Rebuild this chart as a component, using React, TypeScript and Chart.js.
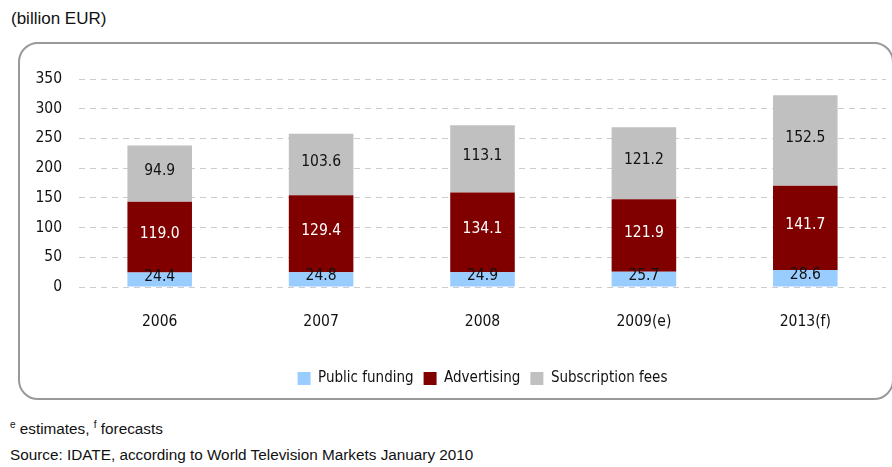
import React, { useEffect, useRef } from "react";
import { Chart, registerables } from "chart.js";

Chart.register(...registerables);

const categories = ["2006", "2007", "2008", "2009(e)", "2013(f)"];
const publicFunding = [24.4, 24.8, 24.9, 25.7, 28.6];
const advertising = [119.0, 129.4, 134.1, 121.9, 141.7];
const subscriptionFees = [94.9, 103.6, 113.1, 121.2, 152.5];
const seriesNames = ["Public funding", "Advertising", "Subscription fees"];
const seriesColors = ["#99CCFF", "#800000", "#C0C0C0"];
const labelColors = ["#111111", "#FFFFFF", "#111111"];

const NARROW = '"Liberation Sans Narrow", "DejaVu Sans Condensed", "Arial Narrow", sans-serif';
const SANS = '"Liberation Sans", Arial, sans-serif';

const valueLabels = {
  id: "valueLabels",
  afterDatasetsDraw(chart: any) {
    const ctx = chart.ctx;
    ctx.save();
    ctx.font = `15.5px ${NARROW}`;
    ctx.textAlign = "center";
    ctx.textBaseline = "middle";
    chart.data.datasets.forEach((ds: any, di: number) => {
      const meta = chart.getDatasetMeta(di);
      meta.data.forEach((bar: any, i: number) => {
        const v = ds.data[i];
        ctx.fillStyle = labelColors[di];
        const y = (bar.y + bar.base) / 2 - 3;
        ctx.fillText(Number(v).toFixed(1), bar.x, y);
      });
    });
    ctx.restore();
  },
};

function BarChart() {
  const ref = useRef<HTMLCanvasElement>(null);
  useEffect(() => {
    if (!ref.current) return;
    const chart = new Chart(ref.current, {
      type: "bar",
      data: {
        labels: categories,
        datasets: [publicFunding, advertising, subscriptionFees].map((d, i) => ({
          label: seriesNames[i],
          data: d,
          backgroundColor: seriesColors[i],
          borderWidth: 0,
          barPercentage: 0.4,
          categoryPercentage: 1,
        })),
      },
      options: {
        animation: false,
        responsive: false,
        maintainAspectRatio: false,
        layout: { padding: { top: 35, right: 4, left: 0, bottom: 0 } },
        plugins: {
          tooltip: { enabled: false },
          legend: {
            position: "bottom",
            fullSize: false,
            labels: {
              boxWidth: 13,
              boxHeight: 13,
              padding: 10,
              color: "#111",
              font: { family: NARROW, size: 15 },
            },
          },
        },
        scales: {
          x: {
            stacked: true,
            grid: { display: false, drawTicks: false },
            border: { display: false },
            ticks: { color: "#111", font: { family: NARROW, size: 15.5 }, padding: 26, maxRotation: 0 },
            afterFit(scale: any) {
              scale.height = 74;
            },
          },
          y: {
            stacked: true,
            min: 0,
            max: 350,
            ticks: { stepSize: 50, color: "#111", font: { family: NARROW, size: 15.5 }, padding: 17 },
            grid: { color: "#CCCCCC", lineWidth: 1, drawTicks: false },
            border: { display: false, dash: [6, 5] },
            afterFit(scale: any) {
              scale.width = 59;
            },
          },
        },
      },
      plugins: [valueLabels],
    } as any);
    return () => chart.destroy();
  }, []);
  return <canvas ref={ref} width={870} height={352} style={{ display: "block", width: 870, height: 352 }} />;
}

export default function App() {
  return (
    <div style={{ position: "absolute", left: 0, top: 0, width: 892, height: 467, background: "#fff", overflow: "hidden", fontFamily: SANS, color: "#111" }}>
      <div style={{ position: "absolute", left: 11, top: 8, fontSize: 17, lineHeight: "22px" }}>(billion EUR)</div>
      <div
        style={{
          position: "absolute",
          left: 18,
          top: 42,
          width: 872,
          height: 354,
          border: "2px solid #999",
          borderRadius: 20,
        }}
      />
      <div style={{ position: "absolute", left: 20, top: 44 }}>
        <BarChart />
      </div>
      <div style={{ position: "absolute", left: 10, top: 415, fontSize: 15.3, lineHeight: "20px" }}>
        <sup style={{ fontSize: 10 }}>e</sup> estimates, <sup style={{ fontSize: 10 }}>f</sup> forecasts
      </div>
      <div style={{ position: "absolute", left: 10, top: 445, fontSize: 15.3, lineHeight: "20px" }}>
        Source: IDATE, according to World Television Markets January 2010
      </div>
    </div>
  );
}
